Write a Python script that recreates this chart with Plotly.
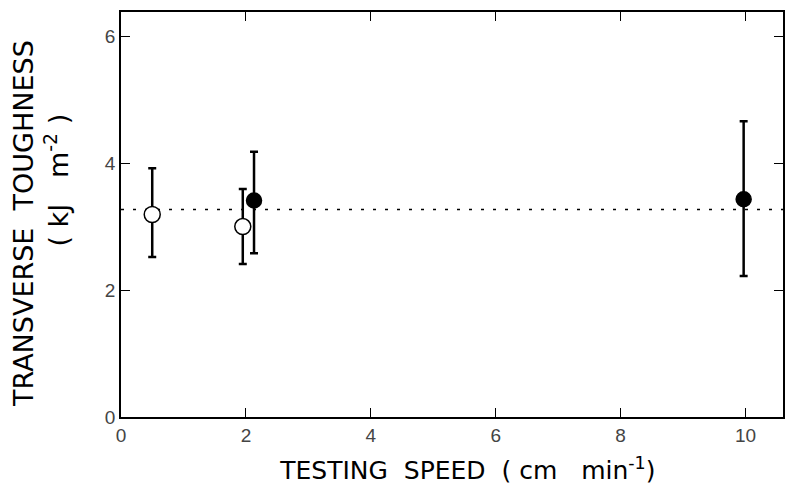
import plotly.graph_objects as go

# open circles
open_x = [0.5, 1.95]
open_y = [3.19, 3.0]
open_hi = [3.92, 3.59]
open_lo = [2.52, 2.41]

# filled circles
fill_x = [2.13, 9.97]
fill_y = [3.41, 3.43]
fill_hi = [4.18, 4.66]
fill_lo = [2.58, 2.22]

mean_line = 3.27
x_max = 10.6
y_max = 6.38

fig = go.Figure()

fig.add_trace(go.Scatter(
    x=[0, x_max], y=[mean_line, mean_line], mode="lines",
    line=dict(color="black", width=1.5, dash="3px,9px"), showlegend=False))


def add_points(xs, ys, hi, lo, fill):
    fig.add_trace(go.Scatter(
        x=xs, y=ys, mode="markers",
        error_y=dict(type="data", symmetric=False,
                     array=[h - y for h, y in zip(hi, ys)],
                     arrayminus=[y - l for l, y in zip(lo, ys)],
                     color="black", thickness=2.5, width=4),
        marker=dict(size=15 if fill else 16, symbol="circle",
                    color="black" if fill else "white",
                    line=dict(color="black", width=1.5)),
        showlegend=False))


add_points(open_x, open_y, open_hi, open_lo, False)
add_points(fill_x, fill_y, fill_hi, fill_lo, True)

axis_common = dict(showline=True, linecolor="black", linewidth=1.5, mirror="ticks",
                   ticks="inside", ticklen=9, tickcolor="black", tickwidth=1.2,
                   showgrid=False, zeroline=False, automargin=False,
                   tickfont=dict(family="Liberation Sans, Arial", size=19, color="#444"))

nb = "\u00a0"
fig.update_xaxes(range=[0, x_max], tickvals=[0, 2, 4, 6, 8, 10],
                 title=dict(text="<span>" + nb * 4 + "</span>TESTING  SPEED  ( cm   min<sup>-1</sup>)",
                            font=dict(family="DejaVu Sans", size=25, color="black"),
                            standoff=17),
                 **axis_common)
# nbsp padding nudges each rotated line along the axis like the original
fig.update_yaxes(range=[0, y_max], tickvals=[0, 2, 4, 6],
                 title=dict(text="TRANSVERSE  TOUGHNESS" + nb * 2 + "<br>" + nb * 8
                                 + "( kJ   m<sup>-2</sup> )",
                            font=dict(family="DejaVu Sans", size=27, color="black"),
                            standoff=34),
                 **axis_common)

# page body keeps an 8px margin, so the figure is sized to fit inside it
fig.update_layout(
    width=788, height=483,
    margin=dict(l=113, r=13, t=4, b=74),
    plot_bgcolor="white", paper_bgcolor="white",
)

fig.write_html("out.html")
